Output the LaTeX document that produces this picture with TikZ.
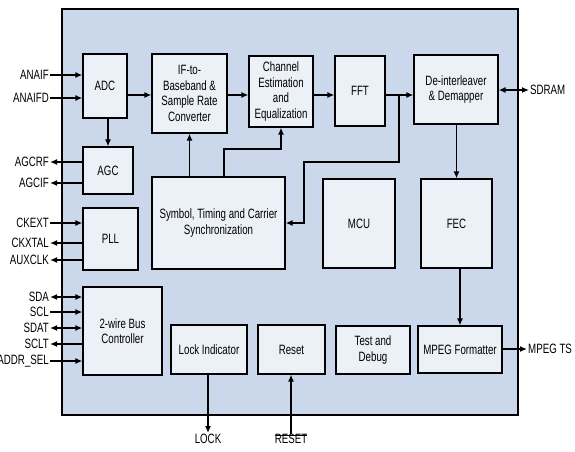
\documentclass[tikz,border=0pt]{standalone}
\usepackage{fontspec}
\setmainfont{Liberation Sans}[FakeStretch=0.72]
\usetikzlibrary{arrows.meta}

\definecolor{chipfill}{RGB}{203,216,236}
\definecolor{boxfill}{RGB}{236,240,247}

\tikzset{
  blok/.style={draw, line width=1.2pt, fill=boxfill, align=center, inner sep=1pt},
  sig/.style={line width=1.8pt, -{Latex[length=7pt,width=6pt]}},
  sigboth/.style={line width=1.8pt, {Latex[length=7pt,width=6pt]}-{Latex[length=7pt,width=6pt]}},
  wire/.style={line width=1.8pt},
  pinl/.style={anchor=east, inner sep=1pt},
  pinr/.style={anchor=west, inner sep=1pt}
}

\begin{document}
\begin{tikzpicture}[x=1pt, y=-1pt, font=\fontsize{13.5}{15.5}\selectfont]

      \useasboundingbox (0,0) rectangle (575,451);

      % Chip
      \draw[line width=1.5pt, fill=chipfill] (62,9) rectangle (518,415);

      % Blok baris atas
      \node[blok, minimum width=44pt, minimum height=64pt] (adc) at (105,86) {ADC};
      \node[blok, minimum width=75pt, minimum height=79pt] (ifbb) at (189.5,93.5) {IF-to-\\Baseband \&\\Sample Rate\\Converter};
      \node[blok, minimum width=64pt, minimum height=71pt] (chan) at (281,91.5) {Channel\\Estimation\\and\\Equalization};
      \node[blok, minimum width=50pt, minimum height=70pt] (fft) at (360,91) {FFT};
      \node[blok, minimum width=84pt, minimum height=69pt] (deint) at (456,89.5) {De-interleaver\\\& Demapper};

      % Blok baris tengah
      \node[blok, minimum width=50pt, minimum height=47pt] (agc) at (108,170.5) {AGC};
      \node[blok, minimum width=55pt, minimum height=62pt] (pll) at (110.5,239) {PLL};
      \node[blok, minimum width=133pt, minimum height=92pt] (sync) at (218.5,223) {Symbol, Timing and Carrier\\Synchronization};
      \node[blok, minimum width=72pt, minimum height=89pt] (mcu) at (359,223.5) {MCU};
      \node[blok, minimum width=71pt, minimum height=89pt] (fec) at (456.5,223.5) {FEC};

      % Blok baris bawah
      \node[blok, minimum width=79pt, minimum height=88pt] (bus) at (122.5,331) {2-wire Bus\\Controller};
      \node[blok, minimum width=76pt, minimum height=49pt] (lock) at (209,349.5) {Lock Indicator};
      \node[blok, minimum width=67pt, minimum height=49pt] (reset) at (291.5,349.5) {Reset};
      \node[blok, minimum width=74pt, minimum height=48pt] (test) at (373,350) {Test and\\Debug};
      \node[blok, minimum width=84pt, minimum height=47pt] (mpeg) at (460,349.5) {MPEG Formatter};

      % Pin kiri
      \node[pinl] (anaif) at (50,75) {ANAIF};
      \node[pinl] (anaifd) at (50,98) {ANAIFD};
      \node[pinl] (agcrf) at (50,162) {AGCRF};
      \node[pinl] (agcif) at (50,183) {AGCIF};
      \node[pinl] (ckext) at (50,223) {CKEXT};
      \node[pinl] (ckxtal) at (50,243) {CKXTAL};
      \node[pinl] (auxclk) at (50,260) {AUXCLK};
      \node[pinl] (sda) at (50,297) {SDA};
      \node[pinl] (scl) at (50,312) {SCL};
      \node[pinl] (sdat) at (50,328) {SDAT};
      \node[pinl] (sclt) at (50,344) {SCLT};
      \node[pinl] (addrsel) at (50,361) {ADDR\_SEL};

      % Pin kanan dan bawah
      \node[pinr] (sdram) at (529,90) {SDRAM};
      \node[pinr] (mpegts) at (527,349) {MPEG TS};
      \node[anchor=north, inner sep=1pt] (lockpin) at (208,433) {LOCK};
      \node[anchor=north, inner sep=0pt] (resetpin) at (291,434) {RESET};
      \draw[line width=0.8pt] ([yshift=-1pt]resetpin.north west) -- ([yshift=-1pt]resetpin.north east);

      % Titik bantu
      \coordinate (m) at (0,95);
      \coordinate (br) at (399,95);
      \coordinate (fb1) at (399,162);
      \coordinate (fb2) at (304,162);
      \coordinate (fb3) at (304,223);
      \coordinate (sy1) at (224,177);
      \coordinate (sy2) at (224,149);
      \coordinate (sy3) at (281,149);

      % Jalur data
      \draw[sig] (adc.east |- m) -- (ifbb.west |- m);
      \draw[sig] (ifbb.east |- m) -- (chan.west |- m);
      \draw[sig] (chan.east |- m) -- (fft.west |- m);
      \draw[sig] (fft.east |- m) -- (deint.west |- m);
      \draw[sig] (agc.north |- adc.south) -- (agc.north);
      \draw[sig] (deint.south) -- (fec.north |- deint.south) -- (fec.north);
      \draw[sig] (mpeg.north |- fec.south) -- (mpeg.north);

      % Umpan balik sinkronisasi
      \draw[sig] (br) -- (fb1) -- (fb2) -- (fb3) -- (sync.east |- fb3);
      \draw[sig] (ifbb.south |- sync.north) -- (ifbb.south);
      \draw[sig] (sy1) -- (sy2) -- (sy3) -- (chan.south);

      % Sinyal kiri
      \draw[sig] (anaif.east) -- (adc.west |- anaif.east);
      \draw[sig] (anaifd.east) -- (adc.west |- anaifd.east);
      \draw[sig] (agc.west |- agcrf.east) -- (agcrf.east);
      \draw[sig] (agc.west |- agcif.east) -- (agcif.east);
      \draw[sig] (ckext.east) -- (pll.west |- ckext.east);
      \draw[sig] (pll.west |- ckxtal.east) -- (ckxtal.east);
      \draw[sig] (pll.west |- auxclk.east) -- (auxclk.east);
      \draw[sigboth] (sda.east) -- (bus.west |- sda.east);
      \draw[sig] (scl.east) -- (bus.west |- scl.east);
      \draw[sigboth] (sdat.east) -- (bus.west |- sdat.east);
      \draw[sig] (bus.west |- sclt.east) -- (sclt.east);
      \draw[sig] (addrsel.east) -- (bus.west |- addrsel.east);

      % Sinyal kanan dan bawah
      \draw[sigboth] (deint.east |- sdram.west) -- (sdram.west);
      \draw[sig] (mpeg.east |- mpegts.west) -- (mpegts.west);
      \draw[sig] (lock.south -| lockpin.north) -- (lockpin.north);
      \draw[sig] (resetpin.north) -- (reset.south -| resetpin.north);

    \end{tikzpicture}
\end{document}
